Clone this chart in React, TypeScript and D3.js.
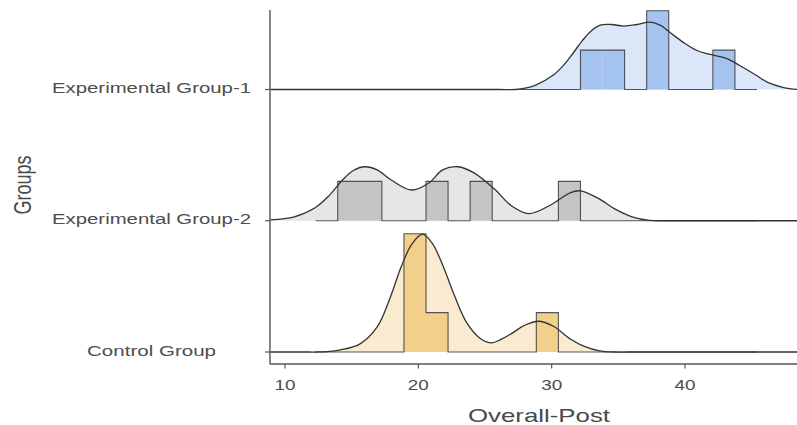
import { useEffect } from 'react';
import * as d3 from 'd3';

// groups, bottom to top
const groups = ['Control Group', 'Experimental Group-2', 'Experimental Group-1'];
const groupLabelWidths = [129, 199, 199];

// shared bins of the histogram layer
const binStart = 12.3;
const binWidth = 1.655;
const controlCounts = [0, 0, 0, 0, 3, 1, 0, 0, 0, 0, 1, 0, 0, 0, 0, 0, 0, 0, 0, 0];
const exp2Counts = [0, 1, 1, 0, 0, 1, 0, 1, 0, 0, 0, 1, 0, 0, 0, 0, 0, 0, 0, 0];
const exp1Counts = [0, 0, 0, 0, 0, 0, 0, 0, 0, 0, 0, 0, 1, 1, 0, 2, 0, 0, 1, 0];

// density curves: [Overall-Post, height in count units]
const controlDensity = [
  [8.9, 0], [10.5, 0], [11.5, 0], [12.4, 0], [13.2, 0.01], [14.1, 0.05], [15.6, 0.2],
  [16.9, 0.63], [17.9, 1.39], [18.7, 2.15], [19.5, 2.73], [20.3, 2.99], [21.0, 2.78],
  [21.8, 2.23], [22.7, 1.44], [23.6, 0.76], [24.7, 0.33], [25.5, 0.23], [26.2, 0.32],
  [26.9, 0.45], [28.0, 0.68], [29.0, 0.78], [30.1, 0.66], [31.4, 0.33], [32.4, 0.15],
  [33.6, 0.03], [34.7, 0], [35.8, 0], [37, 0], [48.5, 0]
];
const exp2Density = [
  [8.9, 0.02], [10.7, 0.1], [12.26, 0.33], [13.29, 0.63], [14.33, 1.04], [15.1, 1.27],
  [16.0, 1.37], [16.91, 1.29], [17.94, 1.04], [19.49, 0.78], [20.79, 0.96], [21.82, 1.29],
  [22.98, 1.37], [24.14, 1.22], [25.69, 0.81], [26.98, 0.38], [28.27, 0.18], [29.82, 0.38],
  [31.38, 0.71], [32.15, 0.76], [33.44, 0.58], [34.73, 0.3], [36.03, 0.1], [37.32, 0.01],
  [38.5, 0], [39.6, 0], [41, 0], [48.5, 0]
];
const exp1Density = [
  [8.9, 0], [24, 0], [26, 0], [27.3, 0], [28.1, 0.04], [28.8, 0.11], [30.1, 0.36],
  [30.9, 0.62], [31.6, 0.92], [32.3, 1.24], [33.0, 1.5], [33.7, 1.64], [34.5, 1.65],
  [35.4, 1.61], [36.4, 1.65], [37.4, 1.71], [38.2, 1.62], [38.9, 1.44], [39.9, 1.19],
  [40.9, 0.99], [41.9, 0.89], [43.1, 0.79], [44.1, 0.61], [45.4, 0.35], [46.2, 0.18],
  [47.4, 0.05], [48.5, 0]
];

const xTicks = [10, 20, 30, 40];

const counts = [controlCounts, exp2Counts, exp1Counts];
const densities = [controlDensity, exp2Density, exp1Density];
const densityFills = ['#faebd0', '#e6e6e6', '#dbe6f8'];
const barFills = ['#f2cf8a', '#c4c4c4', '#a5c3ef'];

const W = 797;
const H = 425;
const panelLeft = 270;
const panelTop = 10;
const panelBottom = 364;
const font = '"Liberation Sans", Arial, sans-serif';
const textColor = '#4d4d4d';

export default function App() {
  useEffect(() => {
    document.body.style.margin = '0';
  }, []);

  const x = d3.scaleLinear().domain([10, 40]).range([285, 685]);
  const y = d3.scalePoint<string>().domain(groups).range([352, 89.5]);
  const h = d3.scaleLinear().domain([0, 1]).range([0, 39.4]);
  const curve = d3.curveCatmullRom.alpha(0.5);

  // draw top ridge first so lower ones sit in front
  const order = [2, 1, 0];

  return (
    <svg width={W} height={H} style={{ display: 'block', background: '#fff' }}>
      {order.map(gi => {
        const base = y(groups[gi]) as number;
        const area = d3.area<number[]>()
          .x(d => x(d[0]))
          .y0(base)
          .y1(d => base - h(d[1]))
          .curve(curve);
        const line = d3.line<number[]>()
          .x(d => x(d[0]))
          .y(d => base - h(d[1]))
          .curve(curve);
        const c = counts[gi];
        const binEnd = binStart + binWidth * c.length;
        const p = d3.path();
        p.moveTo(x(binStart), base);
        c.forEach((n, i) => {
          const x0 = x(binStart + i * binWidth);
          const x1 = x(binStart + (i + 1) * binWidth);
          p.lineTo(x0, base - h(n));
          p.lineTo(x1, base - h(n));
        });
        p.lineTo(x(binEnd), base);
        return (
          <g key={groups[gi]}>
            <path d={area(densities[gi]) ?? ''} fill={densityFills[gi]} />
            {c.map((n, i) => n > 0 ? (
              <rect key={i}
                x={x(binStart + i * binWidth)}
                y={base - h(n)}
                width={x(binStart + (i + 1) * binWidth) - x(binStart + i * binWidth)}
                height={h(n)}
                fill={barFills[gi]} />
            ) : null)}
            <path d={p.toString()} fill="none" stroke="#3a3a3a" strokeOpacity={0.85} strokeWidth={1.1} />
            <path d={line(densities[gi]) ?? ''} fill="none" stroke="#333" strokeWidth={1.3} />
          </g>
        );
      })}

      {/* axes */}
      <line x1={panelLeft} x2={panelLeft} y1={panelTop} y2={panelBottom} stroke="#555" strokeWidth={1.4} />
      <line x1={panelLeft} x2={W} y1={panelBottom} y2={panelBottom} stroke="#555" strokeWidth={1.4} />
      {groups.map((g, i) => (
        <g key={g}>
          <line x1={panelLeft - 5} x2={panelLeft} y1={y(g)} y2={y(g)} stroke="#555" strokeWidth={1.2} />
          <text x={151.5} y={(y(g) as number) + 3.5} textAnchor="middle" fontFamily={font}
            fontSize={14} fill={textColor} textLength={groupLabelWidths[i]} lengthAdjust="spacingAndGlyphs">
            {g}
          </text>
        </g>
      ))}
      {xTicks.map(t => (
        <g key={t}>
          <line x1={x(t)} x2={x(t)} y1={panelBottom} y2={panelBottom + 4.5} stroke="#555" strokeWidth={1.2} />
          <text x={x(t)} y={389.5} textAnchor="middle" fontFamily={font} fontSize={14}
            fill={textColor} textLength={21} lengthAdjust="spacingAndGlyphs">
            {t}
          </text>
        </g>
      ))}
      <text x={539} y={421.5} textAnchor="middle" fontFamily={font} fontSize={19}
        fill="#4a4a4a" textLength={142} lengthAdjust="spacingAndGlyphs">
        Overall-Post
      </text>
      <text transform="translate(31,185) scale(1.35,1) rotate(-90)" textAnchor="middle"
        fontFamily={font} fontSize={18} fill="#4a4a4a">
        Groups
      </text>
    </svg>
  );
}
